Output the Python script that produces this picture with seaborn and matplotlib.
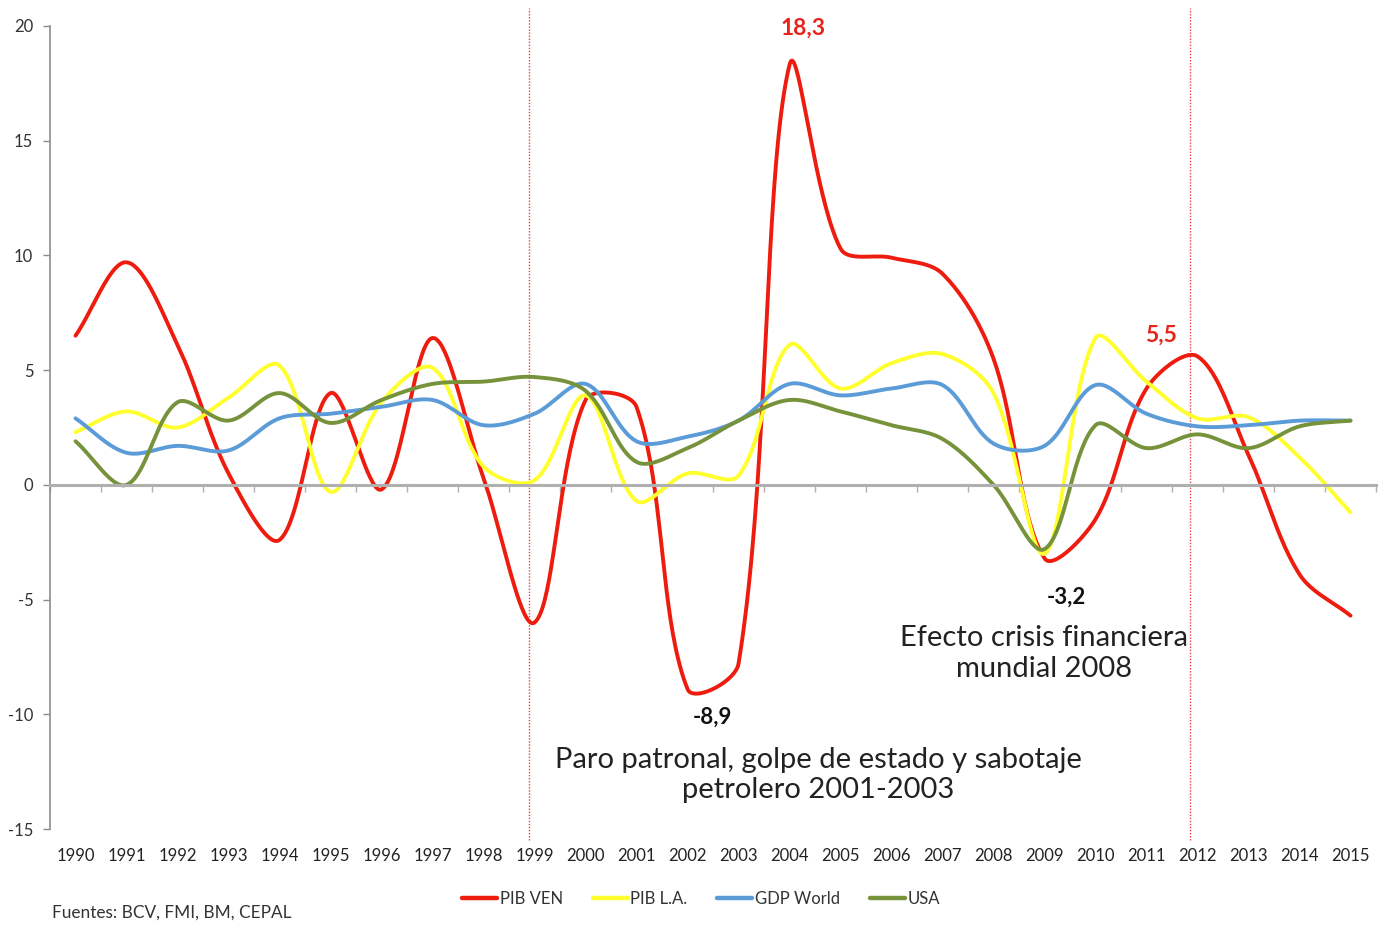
import numpy as np
import pandas as pd
import matplotlib
matplotlib.use("Agg")
import matplotlib.pyplot as plt
import seaborn as sns

years = list(range(1990, 2016))
pib_ven = [6.5, 9.7, 6.1, 0.5, -2.4, 4.0, -0.2, 6.4, 0.3, -6.0, 3.7, 3.4, -8.9, -7.8,
           18.3, 10.3, 9.9, 9.2, 5.5, -3.2, -1.5, 4.2, 5.6, 1.3, -3.9, -5.7]
pib_la = [2.3, 3.2, 2.5, 3.8, 5.2, -0.3, 3.6, 5.1, 0.8, 0.2, 3.9, -0.7, 0.5, 0.4,
          6.1, 4.2, 5.3, 5.7, 4.0, -3.0, 6.4, 4.5, 2.9, 2.95, 1.2, -1.2]
gdp_world = [2.9, 1.4, 1.7, 1.5, 2.9, 3.1, 3.4, 3.7, 2.6, 3.1, 4.4, 1.9, 2.1, 2.8,
             4.4, 3.9, 4.2, 4.35, 1.8, 1.7, 4.35, 3.1, 2.55, 2.6, 2.8, 2.8]
usa = [1.9, 0.0, 3.6, 2.8, 4.0, 2.7, 3.7, 4.4, 4.5, 4.7, 4.1, 1.0, 1.6, 2.8,
       3.7, 3.2, 2.6, 2.0, 0.0, -2.8, 2.6, 1.6, 2.2, 1.6, 2.55, 2.8]
series_names = ["PIB VEN", "PIB L.A.", "GDP World", "USA"]
series_values = [pib_ven, pib_la, gdp_world, usa]
colors = ["#EE1C0E", "#FFFF2E", "#5A9BD8", "#76933C"]

annot_vals = ["18,3", "5,5", "-8,9", "-3,2"]

# screen scale used to mimic spreadsheet-style smoothing (pixels per data unit)
SX, SY = 51.0, 22.94


def smooth(xs, ys, n=40):
    xs = np.asarray(xs, float) * SX
    ys = np.asarray(ys, float) * SY
    px = np.concatenate([[xs[0]], xs, [xs[-1]]])
    py = np.concatenate([[ys[0]], ys, [ys[-1]]])
    out_x, out_y = [], []
    t = np.linspace(0, 1, n, endpoint=False)

    def dist(i, j):
        return max(np.hypot(px[j] - px[i], py[j] - py[i]), 1e-9)

    for i in range(1, len(px) - 2):
        d01, d12, d23 = dist(i - 1, i), dist(i, i + 1), dist(i + 1, i + 2)
        f1 = d12 / (d01 + d12) / 3.0
        f2 = d12 / (d12 + d23) / 3.0
        c1x = px[i] + (px[i + 1] - px[i - 1]) * f1
        c1y = py[i] + (py[i + 1] - py[i - 1]) * f1
        c2x = px[i + 1] - (px[i + 2] - px[i]) * f2
        c2y = py[i + 1] - (py[i + 2] - py[i]) * f2
        bx = (1 - t) ** 3 * px[i] + 3 * (1 - t) ** 2 * t * c1x + 3 * (1 - t) * t ** 2 * c2x + t ** 3 * px[i + 1]
        by = (1 - t) ** 3 * py[i] + 3 * (1 - t) ** 2 * t * c1y + 3 * (1 - t) * t ** 2 * c2y + t ** 3 * py[i + 1]
        out_x.extend(bx)
        out_y.extend(by)
    out_x.append(xs[-1])
    out_y.append(ys[-1])
    return np.array(out_x) / SX, np.array(out_y) / SY


idx = np.arange(len(years))
frames = []
for name, vals in zip(series_names, series_values):
    sx, sy = smooth(idx, vals)
    frames.append(pd.DataFrame({"x": sx, "y": sy, "serie": name}))
df = pd.concat(frames, ignore_index=True)

sns.set_style("white")
plt.rcParams["font.family"] = ["Lato", "DejaVu Sans"]

fig = plt.figure(figsize=(13.84, 9.25), dpi=100)
ax = fig.add_axes([50 / 1384, 1 - 829 / 925, 1326 / 1384, 803 / 925])

sns.lineplot(data=df, x="x", y="y", hue="serie", hue_order=series_names,
             palette=dict(zip(series_names, colors)), sort=False, estimator=None,
             units="serie", linewidth=2.8, ax=ax, legend=True)

ax.set_xlim(-0.5, len(years) - 0.5)
ax.set_ylim(-15, 20)
ax.set_yticks(np.arange(-15, 21, 5))
ax.set_yticklabels([str(v) for v in range(-15, 21, 5)], fontsize=12, color="#333333")
ax.tick_params(axis="y", direction="out", length=5, width=1, color="#8c8c8c", pad=7, left=True)

for s in ["top", "right"]:
    ax.spines[s].set_visible(False)
ax.spines["left"].set_color("#8c8c8c")
ax.spines["left"].set_linewidth(1.2)
ax.spines["bottom"].set_position(("data", 0))
ax.spines["bottom"].set_color("#b0b0b0")
ax.spines["bottom"].set_linewidth(2.2)
ax.set_xticks(np.arange(-0.5, len(years), 1.0))
ax.set_xticklabels([])
ax.tick_params(axis="x", direction="out", length=5, width=1, color="#b0b0b0", bottom=True)
ax.set_xlabel("")
ax.set_ylabel("")

sec = ax.secondary_xaxis("bottom")
sec.set_xticks(idx)
sec.set_xticklabels([str(y) for y in years], fontsize=12, color="#222222")
sec.tick_params(length=0, pad=14)
sec.spines["bottom"].set_visible(False)

# vertical reference lines
for xv in [8.9, 21.85]:
    ax.axvline(xv, ymin=-0.014, ymax=1.022, color="#E8403A", linestyle=(0, (1, 1.2)),
               linewidth=1.0, clip_on=False, zorder=1)

# annotations
ax.text(14.26, 19.9, annot_vals[0], color="#E8231A", fontsize=16.5, fontweight="bold",
        ha="center", va="center")
ax.text(21.28, 6.54, annot_vals[1], color="#E8231A", fontsize=16.5, fontweight="bold",
        ha="center", va="center")
ax.text(12.48, -10.11, annot_vals[2], color="#111111", fontsize=16, fontweight="bold",
        ha="center", va="center")
ax.text(19.42, -4.88, annot_vals[3], color="#111111", fontsize=16, fontweight="bold",
        ha="center", va="center")
ax.text(19.0, -7.35, "Efecto crisis financiera\nmundial 2008", color="#222222", fontsize=21,
        ha="center", va="center", linespacing=1.2)
ax.text(14.56, -12.65, "Paro patronal, golpe de estado y sabotaje\npetrolero 2001-2003",
        color="#222222", fontsize=21, ha="center", va="center", linespacing=1.2)

leg = ax.legend(loc="center", bbox_to_anchor=(701 / 1384, 1 - 899 / 925),
                bbox_transform=fig.transFigure, ncol=4, frameon=False, fontsize=12,
                handlelength=2.1, handletextpad=0.15, columnspacing=1.8)
for line in leg.get_lines():
    line.set_linewidth(3.2)
for t in leg.get_texts():
    t.set_color("#333333")

fig.text(52 / 1384, 1 - 913 / 925, "Fuentes: BCV, FMI, BM, CEPAL", fontsize=12.4,
         color="#333333", ha="left", va="center")

fig.savefig("out.png", dpi=100, facecolor="white")
